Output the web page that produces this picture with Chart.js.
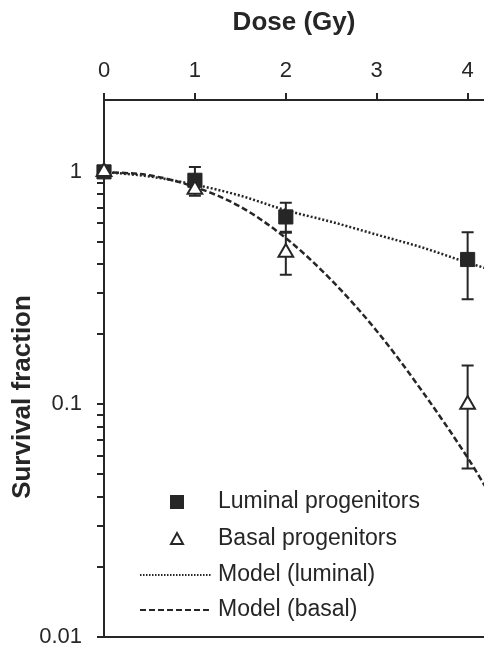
<!DOCTYPE html>
<html>
<head>
  <meta charset="utf-8">
  <title>Survival fraction vs dose</title>
  <script src="https://cdn.jsdelivr.net/npm/chart.js"></script>
  <style>
    body {
      margin: 0;
      background: #fff;
    }
    #wrap {
      width: 484px;
      height: 651px;
    }
  </style>
</head>
<body>
  <div id="wrap">
    <canvas id="survChart" width="484" height="651"></canvas>
  </div>

  <script>
    // measured points (dose in Gy, survival fraction)
    const doses        = [0, 1, 2, 4];
    const luminal      = [1, 0.92, 0.64, 0.42];
    const luminalLow   = [null, 0.82, 0.553, 0.283];
    const luminalHigh  = [null, 1.05, 0.736, 0.55];
    const basal        = [1, 0.84, 0.45, 0.1];
    const basalLow     = [null, 0.79, 0.361, 0.053];
    const basalHigh    = [null, 0.89, 0.547, 0.147];

    // model curves
    const modelDose    = [0, 0.5, 1, 1.5, 2, 2.5, 3, 3.5, 4, 4.2];
    const modelLuminal = [1, 0.955, 0.881, 0.79, 0.684, 0.61, 0.537, 0.473, 0.407, 0.385];
    const modelBasal   = [1, 0.966, 0.861, 0.708, 0.519, 0.343, 0.207, 0.114, 0.059, 0.044];

    const seriesLabels = ['Luminal progenitors', 'Basal progenitors', 'Model (luminal)', 'Model (basal)'];

    const xTicks = [0, 1, 2, 3, 4];
    const yTicks = [0.01, 0.02, 0.03, 0.04, 0.05, 0.06, 0.07, 0.08, 0.09,
                    0.1, 0.2, 0.3, 0.4, 0.5, 0.6, 0.7, 0.8, 0.9, 1];
    const yLabelled = [0.01, 0.1, 1];

    const FONT = '"Liberation Sans", Arial, sans-serif';
    const INK  = '#262626';

    const toXY = (xs, ys) => xs.map((x, i) => ({ x: x, y: ys[i] }));

    // error bars + bottom frame line + custom legend + y title
    const extras = {
      id: 'extras',
      beforeDatasetsDraw(chart) {
        const { ctx, scales: { x, y } } = chart;
        ctx.save();
        ctx.strokeStyle = INK;
        ctx.lineWidth = 2;
        const bars = [[luminalLow, luminalHigh], [basalLow, basalHigh]];
        bars.forEach(([lo, hi]) => {
          doses.forEach((d, i) => {
            if (lo[i] == null) return;
            const px = x.getPixelForValue(d);
            const y1 = y.getPixelForValue(lo[i]);
            const y2 = y.getPixelForValue(hi[i]);
            ctx.beginPath();
            ctx.moveTo(px, y1); ctx.lineTo(px, y2);
            ctx.moveTo(px - 6, y1); ctx.lineTo(px + 6, y1);
            ctx.moveTo(px - 6, y2); ctx.lineTo(px + 6, y2);
            ctx.stroke();
          });
        });
        ctx.restore();
      },
      afterDraw(chart) {
        const { ctx, chartArea } = chart;
        ctx.save();

        // bottom frame line
        ctx.strokeStyle = INK;
        ctx.lineWidth = 2;
        ctx.beginPath();
        ctx.moveTo(chartArea.left - 1, chartArea.bottom);
        ctx.lineTo(chartArea.right, chartArea.bottom);
        ctx.stroke();

        // y axis title
        ctx.fillStyle = INK;
        ctx.font = 'bold 26px ' + FONT;
        ctx.textAlign = 'center';
        ctx.textBaseline = 'middle';
        ctx.translate(23, 397);
        ctx.rotate(-Math.PI / 2);
        ctx.fillText('Survival fraction', 0, 0);
        ctx.setTransform(1, 0, 0, 1, 0, 0);

        // legend
        const rows = [502, 539, 575, 610];
        ctx.font = '23px ' + FONT;
        ctx.textAlign = 'left';
        ctx.fillStyle = INK;
        seriesLabels.forEach((lab, i) => ctx.fillText(lab, 218, rows[i]));

        ctx.fillRect(170, rows[0] - 7, 14, 14);

        ctx.lineWidth = 2;
        ctx.beginPath();
        ctx.moveTo(177, rows[1] - 6);
        ctx.lineTo(183, rows[1] + 5);
        ctx.lineTo(171, rows[1] + 5);
        ctx.closePath();
        ctx.fillStyle = '#fff';
        ctx.fill();
        ctx.stroke();

        ctx.lineWidth = 2;
        ctx.setLineDash([1.5, 1.5]);
        ctx.beginPath();
        ctx.moveTo(140, rows[2]); ctx.lineTo(212, rows[2]);
        ctx.stroke();

        ctx.setLineDash([6, 3]);
        ctx.beginPath();
        ctx.moveTo(140, rows[3]); ctx.lineTo(212, rows[3]);
        ctx.stroke();

        ctx.restore();
      }
    };

    const ctx = document.getElementById('survChart').getContext('2d');
    const chart = new Chart(ctx, {
      type: 'scatter',
      data: {
        datasets: [
          {
            label: seriesLabels[1],
            data: toXY(doses, basal),
            showLine: false,
            pointStyle: 'triangle',
            pointRadius: 8.5,
            pointBackgroundColor: '#fff',
            pointBorderColor: INK,
            pointBorderWidth: 2,
            clip: false,
            order: 1
          },
          {
            label: seriesLabels[0],
            data: toXY(doses, luminal),
            showLine: false,
            pointStyle: 'rect',
            pointRadius: 10,
            pointBackgroundColor: INK,
            pointBorderColor: INK,
            pointBorderWidth: 1,
            clip: false,
            order: 2
          },
          {
            label: seriesLabels[2],
            data: toXY(modelDose, modelLuminal),
            showLine: true,
            borderColor: INK,
            borderWidth: 2.5,
            borderDash: [2, 2],
            pointRadius: 0,
            cubicInterpolationMode: 'monotone',
            order: 3
          },
          {
            label: seriesLabels[3],
            data: toXY(modelDose, modelBasal),
            showLine: true,
            borderColor: INK,
            borderWidth: 2.5,
            borderDash: [6, 3],
            pointRadius: 0,
            cubicInterpolationMode: 'monotone',
            order: 4
          }
        ]
      },
      options: {
        responsive: false,
        animation: false,
        layout: { padding: 0, autoPadding: false },
        plugins: {
          legend: { display: false },
          tooltip: { enabled: false }
        },
        scales: {
          x: {
            type: 'linear',
            position: 'top',
            min: 0,
            max: 4.18,
            afterBuildTicks: s => { s.ticks = xTicks.map(v => ({ value: v })); },
            afterFit: s => { s.height = 100; s.paddingLeft = 0; s.paddingRight = 0; },
            grid: { drawOnChartArea: false, drawTicks: true, tickLength: 7, color: INK, lineWidth: 2 },
            border: { color: INK, width: 2 },
            ticks: { color: INK, padding: 9, font: { family: FONT, size: 22 } },
            title: {
              display: true,
              text: 'Dose (Gy)',
              color: INK,
              padding: { top: 7, bottom: 0 },
              font: { family: FONT, size: 26, weight: 'bold' }
            }
          },
          y: {
            type: 'logarithmic',
            min: 0.01,
            max: 2.037,
            afterBuildTicks: s => { s.ticks = yTicks.map(v => ({ value: v })); },
            afterFit: s => { s.width = 104; s.paddingTop = 0; s.paddingBottom = 14; },
            grid: { drawOnChartArea: false, drawTicks: true, tickLength: 7, color: INK, lineWidth: 2 },
            border: { color: INK, width: 2 },
            ticks: {
              color: INK,
              padding: 15,
              autoSkip: false,
              font: { family: FONT, size: 22 },
              callback: v => yLabelled.some(t => Math.abs(t - v) < 1e-9) ? String(v) : ''
            }
          }
        }
      },
      plugins: [extras]
    });
  </script>
</body>
</html>
